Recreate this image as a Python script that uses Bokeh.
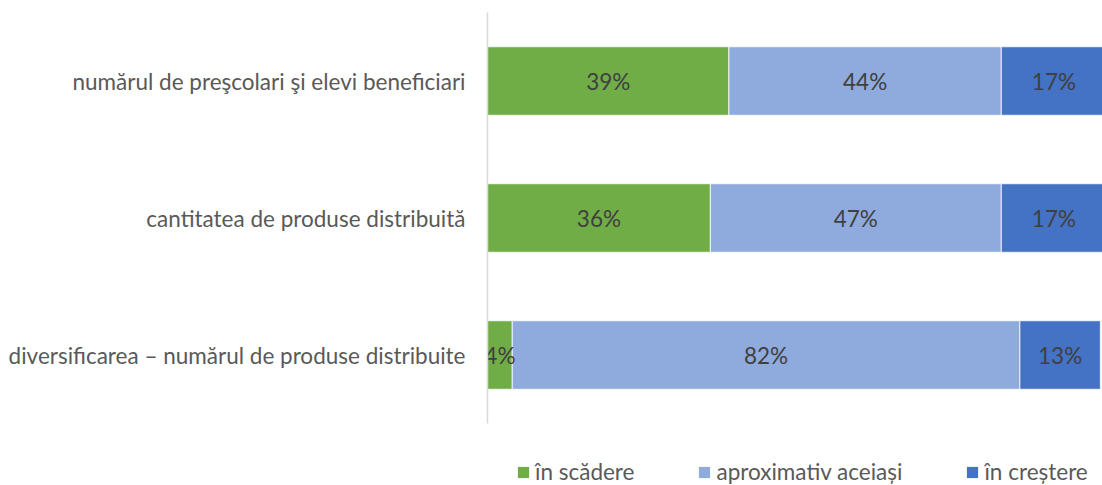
from bokeh.plotting import figure
from bokeh.models import ColumnDataSource, Range1d, FactorRange, Legend, LegendItem
from bokeh.layouts import column
from bokeh.core.properties import value
from bokeh.embed import file_html
from bokeh.resources import INLINE

categories = ["numărul de preşcolari şi elevi beneficiari",
              "cantitatea de produse distribuită",
              "diversificarea – numărul de produse distribuite"]
series = ["în scădere", "aproximativ aceiași", "în creștere"]
scadere = [39, 36, 4]
aceiasi = [44, 47, 82]
crestere = [17, 17, 13]
colors = ["#70AD47", "#8FAADC", "#4472C4"]

FONT = "Lato"
FS = "22.5px"

src = ColumnDataSource(dict(cat=categories, s0=scadere, s1=aceiasi, s2=crestere))

p = figure(width=1102, height=430, output_backend="svg", toolbar_location=None,
           y_range=FactorRange(*reversed(categories), range_padding=0),
           x_range=Range1d(0, 99.35),
           min_border_left=487, min_border_right=0, min_border_top=12, min_border_bottom=7)

p.hbar_stack(["s0", "s1", "s2"], y="cat", height=0.5, color=colors,
             line_color="white", line_width=0.8, source=src)

# data labels
vals = [scadere, aceiasi, crestere]
lx, ly, lt = [], [], []
for j, v in enumerate(vals):
    for i, c in enumerate(categories):
        left = sum(vals[k][i] for k in range(j))
        lx.append(left + v[i] / 2)
        ly.append(c)
        lt.append(f"{v[i]}%")
p.text(x=lx, y=ly, text=lt, text_align="center", text_baseline="middle",
       text_font=value(FONT), text_font_size=FS, text_color="#404040")

p.xaxis.visible = False
p.xgrid.visible = False
p.ygrid.visible = False
p.outline_line_color = None
yax = p.yaxis[0]
yax.axis_line_color = "#D9D9D9"
yax.axis_line_width = 1.5
yax.major_tick_line_color = None
yax.minor_tick_line_color = None
yax.major_tick_out = 0
yax.major_label_standoff = 22
yax.major_label_text_font = FONT
yax.major_label_text_font_size = FS
yax.major_label_text_color = "#595959"

# legend figure
lg = figure(width=1102, height=55, output_backend="svg", toolbar_location=None,
            x_range=Range1d(0, 1), y_range=Range1d(0, 1),
            min_border_left=487, min_border_right=0, min_border_top=0, min_border_bottom=0)
lg.axis.visible = False
lg.grid.visible = False
lg.outline_line_color = None
lrs = [lg.hbar(y=[5], left=[5], right=[6], height=0.5, fill_color=c, line_color=None)
       for c in colors]
legend = Legend(items=[LegendItem(label=s, renderers=[r]) for s, r in zip(series, lrs)],
                orientation="horizontal", location=(29, 0),
                glyph_width=14, glyph_height=14, label_standoff=5, spacing=63,
                padding=0, margin=0, border_line_color=None, background_fill_alpha=0,
                label_text_font=FONT, label_text_font_size=FS, label_text_color="#595959",
                label_height=20)
lg.add_layout(legend, "center")

open("out.html", "w").write(file_html(column(p, lg, spacing=0), INLINE))
